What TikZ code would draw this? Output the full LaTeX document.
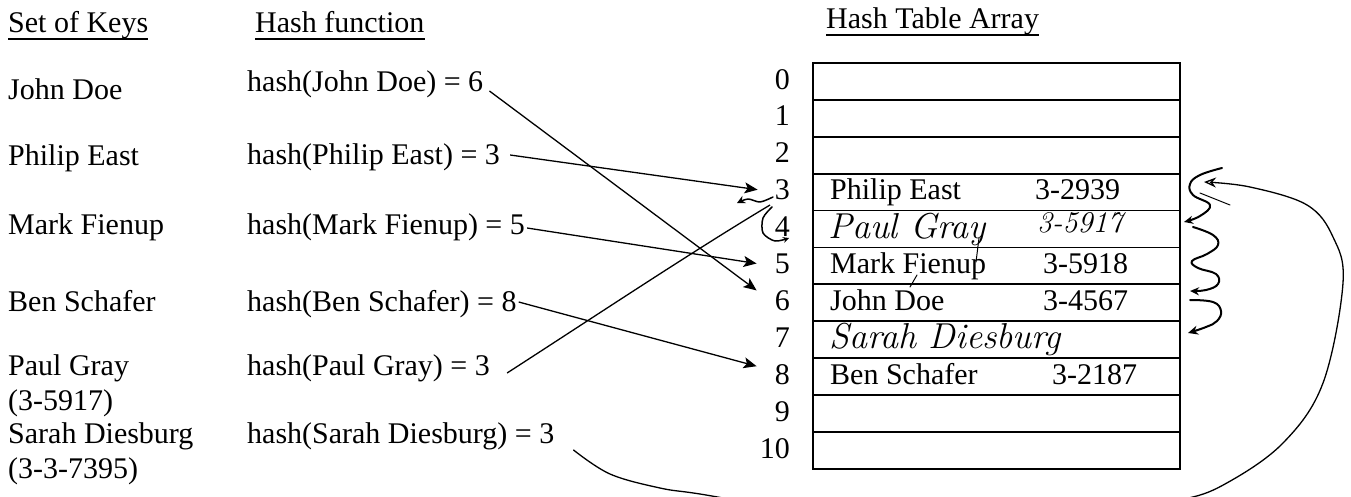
\documentclass[tikz,border=0pt]{standalone}
\usepackage{fontspec}
\setmainfont{Liberation Serif}
\newfontfamily\handfont{Latin Modern Roman}
\usetikzlibrary{arrows.meta}
\begin{document}
\begin{tikzpicture}[x=1pt,y=-1pt,
  txt/.style={font=\fontsize{30}{34}\selectfont, inner sep=0pt, anchor=base west},
  idx/.style={font=\fontsize{30}{34}\selectfont, inner sep=0pt, anchor=base east},
  hand/.style={font=\handfont\itshape\fontsize{36}{40}\selectfont, inner sep=0pt, anchor=base west},
  handnum/.style={font=\handfont\itshape\fontsize{30}{34}\selectfont, inner sep=0pt, anchor=base west},
  cell/.style={draw, line width=1.8pt, minimum width=367pt, minimum height=36.9pt, anchor=north west, inner sep=0pt},
  arr/.style={line width=1.3pt, -{Stealth[length=13pt,width=11pt,inset=3pt]}},
  pen/.style={line width=1.6pt, line cap=round, line join=round},
  uline/.style={line width=1.8pt}]
\useasboundingbox (0,0) rectangle (1351,496);
\clip (0,0) rectangle (1351,496);
\fill[white] (0,0) rectangle (1351,496);

% headers
\node[txt] (hk) at (8,32) {Set of Keys};
\node[txt] (hf) at (255,32) {Hash function};
\node[txt] (ht) at (826,28) {Hash Table Array};
\foreach \n in {hk,hf,ht} \draw[uline] ([yshift=-7pt]\n.base west) -- ([yshift=-7pt]\n.base east);

% keys
\node[txt] (k1) at (8,99) {John Doe};
\node[txt] (k2) at (8,165) {Philip East};
\node[txt] (k3) at (8,234) {Mark Fienup};
\node[txt] (k4) at (8,311) {Ben Schafer};
\node[txt] (k5) at (8,375) {Paul Gray};
\node[txt] (k5b) at (8,410) {(3-5917)};
\node[txt] (k6) at (8,443) {Sarah Diesburg};
\node[txt] (k6b) at (8,478) {(3-3-7395)};

% hash function
\node[txt] (h1) at (247,91) {hash(John Doe) = 6};
\node[txt] (h2) at (247,164) {hash(Philip East) = 3};
\node[txt] (h3) at (247,234) {hash(Mark Fienup) = 5};
\node[txt] (h4) at (247,311) {hash(Ben Schafer) = 8};
\node[txt] (h5) at (247,375) {hash(Paul Gray) = 3};
\node[txt] (h6) at (247,443) {hash(Sarah Diesburg) = 3};

% table
\foreach \i in {0,...,10} {
  \node[cell] (r\i) at (812,{62+36.9*\i}) {};
  \node[idx] (i\i) at (790,{89+36.9*\i}) {\i};
}
\node[txt] (n3) at (830,199.7) {Philip East};
\node[txt] (v3) at (1035,199.7) {3-2939};
\node[txt] (n5) at (830,273.5) {Mark Fienup};
\node[txt] (v5) at (1043,273.5) {3-5918};
\node[txt] (n6) at (830,310.4) {John Doe};
\node[txt] (v6) at (1043,310.4) {3-4567};
\node[txt] (n8) at (830,384.2) {Ben Schafer};
\node[txt] (v8) at (1052,384.2) {3-2187};

% handwritten entries
\node[hand] (n4) at (828,238) {Paul Gray};
\node[handnum] (v4) at (1037,232) {3-5917};
\node[hand] (n7) at (829,348) {Sarah Diesburg};
\draw[pen, line width=1pt] (979,238) -- (976,262);
\draw[pen, line width=1pt] (917,275) -- (910,287);

% printed arrows
\draw[arr] ([xshift=6pt]h1.base east) -- ([xshift=-18pt,yshift=20pt]i6.base west);
\draw[arr] ([xshift=10pt,yshift=9pt]h2.base east) -- ([xshift=-17pt,yshift=10pt]i3.base west);
\draw[arr] ([xshift=2pt,yshift=6pt]h3.base east) -- ([xshift=-18pt,yshift=10pt]i5.base west);
\draw[arr] ([xshift=2pt,yshift=9pt]h4.base east) -- ([xshift=-18pt,yshift=18pt]i8.base west);

% handwritten connector from Paul Gray
\coordinate (p4) at (770,205);
\draw[line width=1.3pt] ([xshift=17pt,yshift=2pt]h5.base east) .. controls (600,313) and (690,253) .. (p4);
\draw[pen, line width=1.5pt, -{Stealth[length=8pt,width=8pt,open]}] plot[smooth] coordinates {(773,197) (760,202) (748,199) (737,203)};
\draw[pen, line width=1.5pt, -{Stealth[length=6pt,width=6pt]}] plot[smooth] coordinates {(772,207) (763,218) (763,233) (775,241) (789,238)};

% squiggle on the right (linear probing)
\draw[pen, line width=2pt, -{Stealth[length=9pt,width=8pt,open]}] plot[smooth, tension=0.7] coordinates {(1222,168) (1200,175) (1190,184) (1193,195) (1210,205) (1200,216) (1184,222)};
\draw[pen, line width=2pt, -{Stealth[length=9pt,width=8pt,open]}] plot[smooth, tension=0.7] coordinates {(1193,227) (1213,235) (1218,245) (1207,254) (1192,261) (1198,268) (1216,274) (1218,284) (1206,290) (1190,291)};
\draw[pen, line width=2pt, -{Stealth[length=10pt,width=9pt,open]}] plot[smooth, tension=0.7] coordinates {(1190,300) (1213,302) (1221,311) (1217,321) (1206,327) (1188,333)};
\draw[pen, line width=1pt] (1200,193) -- (1230,205);

% big wrap-around curve from Sarah Diesburg
\coordinate (sq3) at (1204,182);
\draw[pen, line width=1.3pt, -{Stealth[length=12pt,width=10pt,open]}] plot[smooth, tension=0.6] coordinates {([xshift=19pt,yshift=-7pt]h6.base east) (610,474) (660,488) (700,494) (800,510) (950,522) (1100,512) (1180,500) (1225,484) (1283,443) (1323,383) (1343,283) (1333,237) (1307,205) (1250,187) (sq3)};
\end{tikzpicture}
\end{document}
